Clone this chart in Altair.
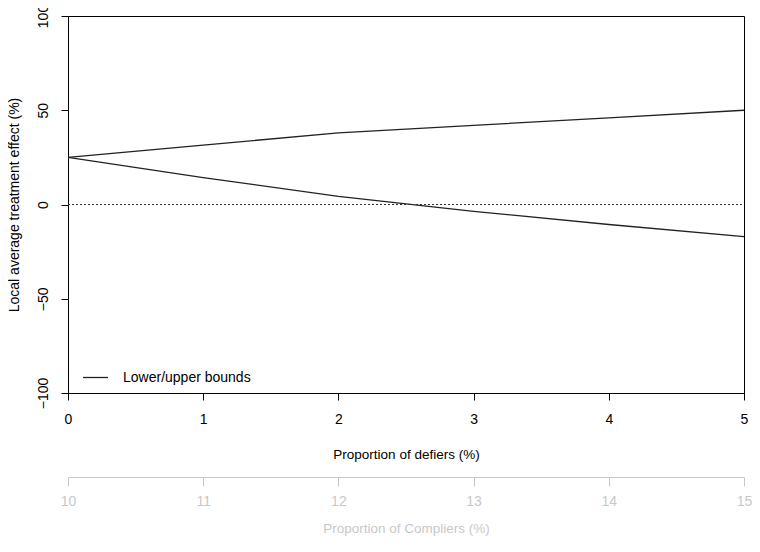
import altair as alt
import pandas as pd

# Proportion of defiers (%)
defiers = [0, 1, 2, 3, 4, 5]
upper_bound = [25, 31.5, 38, 42, 46, 50]
lower_bound = [25, 14.3, 4.3, -3.6, -10.6, -17]
compliers_ticks = [10, 11, 12, 13, 14, 15]
y_ticks = [-100, -50, 0, 50, 100]
legend_label = "Lower/upper bounds"

rows = []
for d, u in zip(defiers, upper_bound):
    rows.append({"defiers": d, "effect": u, "bound": "upper", "series": legend_label})
for d, l in zip(defiers, lower_bound):
    rows.append({"defiers": d, "effect": l, "bound": "lower", "series": legend_label})
df = pd.DataFrame(rows)
zero_df = pd.DataFrame({"defiers": [0, 5], "effect": [0, 0]})
comp_df = pd.DataFrame({"compliers": compliers_ticks})

SANS = "Liberation Sans, Arial, sans-serif"

xscale = alt.Scale(domain=[0, 5], nice=False, zero=False)
yscale = alt.Scale(domain=[-100, 100], nice=False)

x_axis = alt.Axis(
    orient="bottom",
    title="Proportion of defiers (%)", values=defiers, grid=False,
    domainColor="black", tickColor="black", tickSize=7, labelPadding=12,
    labelFont=SANS, labelFontSize=14, labelColor="black", labelFlush=False,
    titleFont=SANS, titleFontSize=13.5, titleFontWeight="normal", titleColor="black",
    titlePadding=21, format="d",
)
y_axis = alt.Axis(
    title="Local average treatment effect (%)", values=y_ticks, grid=False,
    domainColor="black", tickColor="black", tickSize=7, labelPadding=11,
    labelAngle=270, labelAlign="center", labelBaseline="bottom",
    labelFont=SANS, labelFontSize=14, labelColor="black", labelFlush=False,
    titleFont=SANS, titleFontSize=14, titleFontWeight="normal", titleColor="black",
    titlePadding=15,
)

lines = alt.Chart(df).mark_line(strokeWidth=1.3).encode(
    x=alt.X("defiers:Q", scale=xscale, axis=x_axis),
    y=alt.Y("effect:Q", scale=yscale, axis=y_axis),
    detail="bound:N",
    color=alt.Color(
        "series:N",
        scale=alt.Scale(domain=[legend_label], range=["#222222"]),
        legend=alt.Legend(
            title=None, orient="none", legendX=14, legendY=348, padding=0,
            symbolType="stroke", symbolSize=625, symbolStrokeWidth=1.3,
            symbolStrokeColor="#222222", labelFont=SANS, labelFontSize=14,
            labelColor="black", labelOffset=14,
        ),
    ),
)

zero_line = alt.Chart(zero_df).mark_line(
    color="#333333", strokeDash=[2, 2], strokeWidth=1
).encode(
    x=alt.X("defiers:Q", scale=xscale, axis=x_axis),
    y=alt.Y("effect:Q", scale=yscale, axis=y_axis),
)

main = alt.layer(lines, zero_line)

comp_axis = alt.Chart(comp_df).mark_point(opacity=0).encode(
    x=alt.X(
        "compliers:Q",
        scale=alt.Scale(domain=[10, 15], nice=False, zero=False),
        axis=alt.Axis(
            orient="bottom", offset=84, title="Proportion of Compliers (%)",
            values=compliers_ticks, grid=False, format="d",
            domainColor="#c8c8c8", tickColor="#c8c8c8", tickSize=9, labelPadding=8,
            labelFont=SANS, labelFontSize=14, labelColor="#c8c8c8", labelFlush=False,
            titleFont=SANS, titleFontSize=13.5, titleFontWeight="normal",
            titleColor="#c8c8c8", titlePadding=13,
        ),
    ),
    y=alt.value(0),
)

chart = (
    alt.layer(main, comp_axis)
    .resolve_scale(x="independent")
    .resolve_axis(x="independent")
    .properties(
        width=676, height=377,
        autosize=alt.AutoSizeParams(type="none"),
        padding={"left": 60, "top": 8, "right": 8, "bottom": 150},
        background="white",
    )
    .configure_view(stroke="black", strokeWidth=1)
)

chart.save("out.html", embed_options={"renderer": "svg", "actions": False})
